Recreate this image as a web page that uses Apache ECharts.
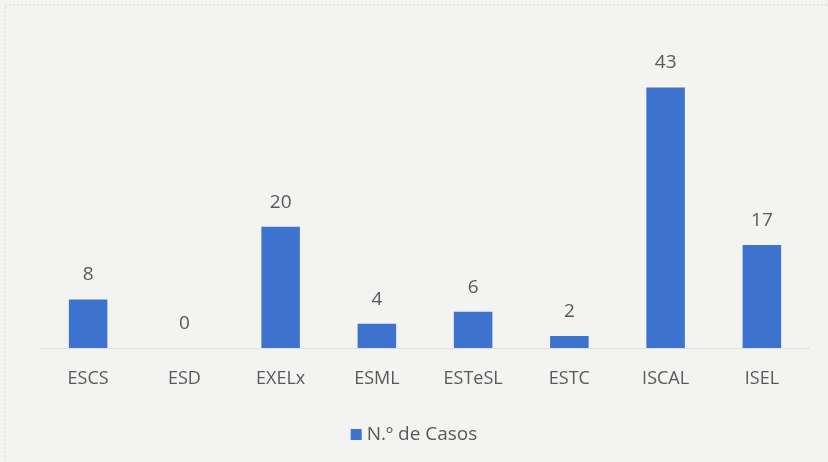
<!DOCTYPE html>
<html>
<head>
    <meta charset="utf-8">
    <script src="https://cdn.jsdelivr.net/npm/echarts@6/dist/echarts.min.js"></script>
    <style>
        html, body { margin: 0; padding: 0; background: #f3f3f1; }
        #main { width: 828px; height: 462px; }
    </style>
</head>
<body>
    <div id="main"></div>
</body>
<script type="text/javascript">
    // data
    const schools = ['ESCS', 'ESD', 'EXELx', 'ESML', 'ESTeSL', 'ESTC', 'ISCAL', 'ISEL'];
    const casos = [8, 0, 20, 4, 6, 2, 43, 17];
    const seriesName = 'N.º de Casos';

    const myChart = echarts.init(document.getElementById('main'));

    const option = {
        backgroundColor: '#f3f3f1',
        textStyle: { fontFamily: 'Open Sans', color: '#595959' },
        graphic: [{
            type: 'rect',
            shape: { x: 5, y: 5, width: 840, height: 470 },
            style: { fill: 'none', stroke: '#d4d4d4', lineWidth: 1, lineDash: [2, 2] },
            silent: true
        }],
        legend: {
            data: [seriesName],
            top: 420,
            left: 'center',
            itemWidth: 11,
            itemHeight: 11,
            itemGap: 6,
            icon: 'rect',
            textStyle: { fontSize: 19, color: '#595959', fontFamily: 'Open Sans' }
        },
        grid: { left: 40, right: 18, top: 45, bottom: 114, containLabel: false },
        xAxis: {
            type: 'category',
            data: schools,
            axisTick: { show: false },
            axisLine: { lineStyle: { color: '#d9d9d9', type: 'dotted' } },
            axisLabel: { fontSize: 18, color: '#595959', margin: 22 }
        },
        yAxis: {
            type: 'value',
            min: 0,
            max: 50,
            show: false,
            splitLine: { show: false }
        },
        series: [{
            name: seriesName,
            type: 'bar',
            data: casos,
            barWidth: '40%',
            itemStyle: { color: '#3d73cf' },
            label: {
                show: true,
                position: 'top',
                distance: 15,
                fontSize: 19,
                color: '#595959'
            }
        }]
    };
    myChart.setOption(option);
</script>
</html>
